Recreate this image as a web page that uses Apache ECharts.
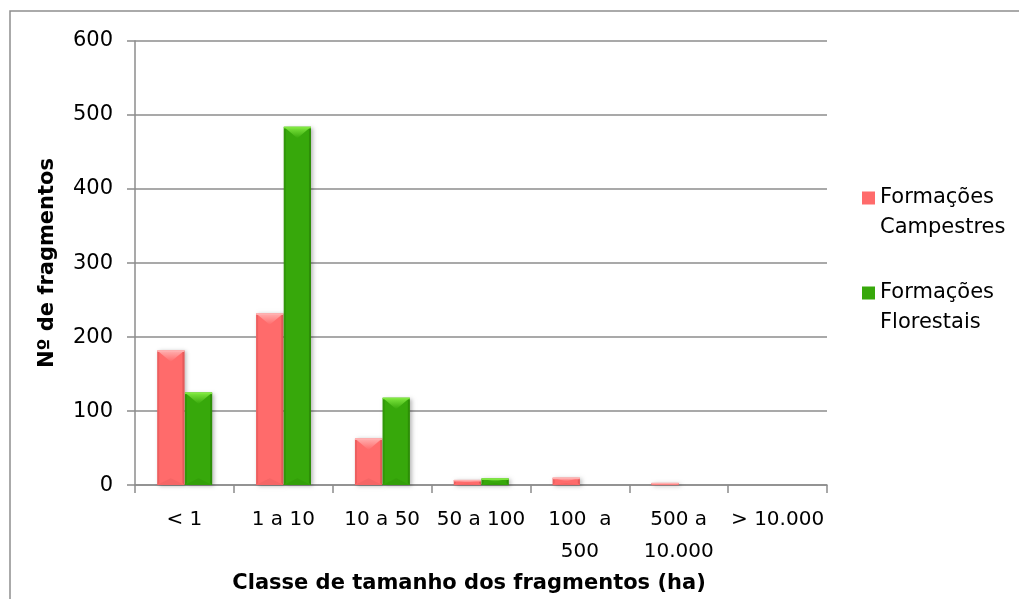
<!DOCTYPE html>
<html>
<head>
<meta charset="utf-8">
<script src="https://cdn.jsdelivr.net/npm/echarts@6/dist/echarts.min.js"></script>
<style>
  html, body { margin: 0; padding: 0; background: #ffffff; }
  #chart { width: 1019px; height: 599px; }
</style>
</head>
<body>
<div id="chart"></div>
<script>
// Size classes of the fragments (ha)
const categories = ['< 1', '1 a 10', '10 a 50', '50 a 100', '100  a\n500', '500 a\n10.000', '> 10.000'];
// Number of fragments per class
const campestres = [182, 232, 63, 7, 10, 3, 0];
const florestais = [125, 484, 118, 9, 0, 0, 0];
const yTicks = [0, 100, 200, 300, 400, 500, 600];

const seriesNames = ['Formações Campestres', 'Formações Florestais'];
const palettes = [
  { base: '#ff6b6b', light: '#ffb0b0', dark: '#d85353', edge: '#ee6262' },
  { base: '#37a80b', light: '#80e840', dark: '#2a8306', edge: '#319a09' }
];

const FONT = 'DejaVu Sans';
const GRID = '#8c8c8c';

// Bevelled column: body, lit top facet, shaded side and bottom facets
function bevelRenderer(slot) {
  const pal = palettes[slot];
  return function (params, api) {
    const cat = api.value(0);
    const val = api.value(1);
    const base = api.coord([cat, 0]);
    const top = api.coord([cat, val]);
    const band = api.size([1, 0])[0];
    const w = band * 0.275;
    const x = slot === 0 ? base[0] - w : base[0] + 0.5;
    const y = top[1];
    const h = base[1] - top[1];
    if (h < 0.5) return null;
    const d = Math.min(w * 0.42, h / 2);
    const e = Math.min(2, w / 6);
    return {
      type: 'group',
      children: [
        {
          type: 'rect',
          shape: { x: x, y: y, width: w, height: h },
          style: {
            fill: pal.base,
            shadowBlur: 4,
            shadowOffsetX: 2,
            shadowOffsetY: 1,
            shadowColor: 'rgba(0,0,0,0.28)'
          }
        },
        {
          type: 'polygon',
          shape: { points: [[x, y + h], [x + w, y + h], [x + w / 2, y + h - d * 0.6]] },
          style: { fill: pal.edge, opacity: 0.6 }
        },
        {
          type: 'polygon',
          shape: { points: [[x, y], [x + e, y + e], [x + e, y + h - e], [x, y + h]] },
          style: { fill: pal.dark, opacity: 0.45 }
        },
        {
          type: 'polygon',
          shape: { points: [[x + w, y], [x + w - e, y + e], [x + w - e, y + h - e], [x + w, y + h]] },
          style: { fill: pal.dark, opacity: 0.7 }
        },
        {
          type: 'polygon',
          shape: { points: [[x, y], [x + w, y], [x + w / 2, y + d]] },
          style: {
            fill: {
              type: 'linear', x: 0, y: 0, x2: 0, y2: 1,
              colorStops: [
                { offset: 0, color: pal.light },
                { offset: 1, color: pal.base }
              ]
            }
          }
        },
        {
          type: 'rect',
          shape: { x: x, y: y, width: w, height: Math.min(1.5, h) },
          style: { fill: pal.light }
        }
      ]
    };
  };
}

function seriesFor(slot, values) {
  return {
    name: seriesNames[slot],
    type: 'custom',
    renderItem: bevelRenderer(slot),
    encode: { x: 0, y: 1 },
    itemStyle: { color: palettes[slot].base },
    data: values.map((v, i) => [i, v])
  };
}

const chart = echarts.init(document.getElementById('chart'), null, { renderer: 'canvas' });

chart.setOption({
  animation: false,
  backgroundColor: '#ffffff',
  textStyle: { fontFamily: FONT, color: '#000000' },
  grid: { left: 135, right: 192, top: 41, bottom: 107, containLabel: false },
  graphic: [
    {
      type: 'rect',
      shape: { x: 10, y: 11, width: 1100, height: 700 },
      style: { fill: 'none', stroke: '#8e8e8e', lineWidth: 1.5 },
      silent: true,
      z: -1
    }
  ],
  legend: {
    orient: 'vertical',
    left: 857,
    top: 148,
    itemGap: 5,
    itemWidth: 13,
    itemHeight: 13,
    icon: 'rect',
    data: seriesNames,
    // blank first line keeps the swatch level with the first word
    formatter: name => ' \n' + name.replace(' ', '\n'),
    textStyle: {
      fontFamily: FONT,
      fontSize: 21,
      color: '#000000',
      lineHeight: 30
    }
  },
  xAxis: {
    type: 'category',
    data: categories,
    name: 'Classe de tamanho dos fragmentos (ha)',
    nameLocation: 'middle',
    nameGap: 80,
    nameTextStyle: {
      fontFamily: FONT,
      fontSize: 21,
      fontWeight: 'bold',
      color: '#000000',
      padding: [0, 24, 0, 0]
    },
    axisLine: { show: true, lineStyle: { color: GRID, width: 1.5 } },
    axisTick: { show: true, length: 8, alignWithLabel: false, lineStyle: { color: GRID, width: 1.5 } },
    axisLabel: {
      interval: 0,
      margin: 19,
      fontFamily: FONT,
      fontSize: 20,
      lineHeight: 32,
      color: '#000000'
    },
    splitLine: { show: false }
  },
  yAxis: {
    type: 'value',
    min: yTicks[0],
    max: yTicks[yTicks.length - 1],
    interval: 100,
    name: 'Nº de fragmentos',
    nameLocation: 'middle',
    nameGap: 77,
    nameTextStyle: {
      fontFamily: FONT,
      fontSize: 21,
      fontWeight: 'bold',
      color: '#000000'
    },
    axisLine: { show: true, lineStyle: { color: GRID, width: 1.5 } },
    axisTick: { show: true, length: 8, lineStyle: { color: GRID, width: 1.5 } },
    axisLabel: {
      margin: 22,
      fontFamily: FONT,
      fontSize: 21,
      color: '#000000'
    },
    splitLine: { show: true, lineStyle: { color: GRID, width: 1.5 } }
  },
  series: [seriesFor(0, campestres), seriesFor(1, florestais)]
});
</script>
</body>
</html>
